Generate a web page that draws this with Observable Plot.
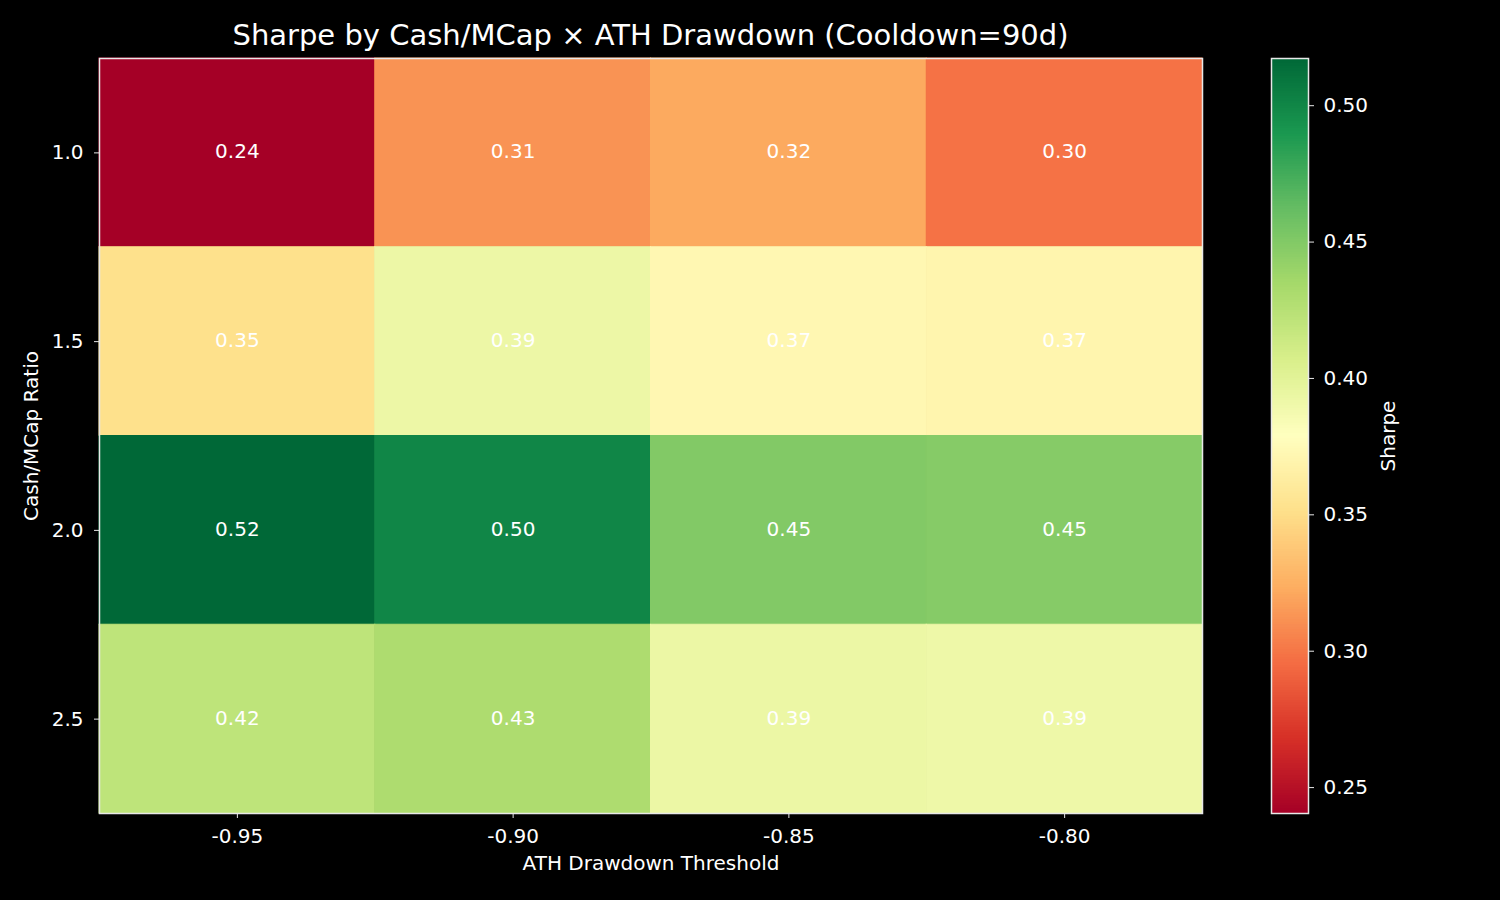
<!DOCTYPE html>
<html>
<head>
<meta charset="utf-8">
<script src="https://cdn.jsdelivr.net/npm/d3@7"></script>
<script src="https://cdn.jsdelivr.net/npm/@observablehq/plot@0.6"></script>
<style>
  html, body { margin: 0; padding: 0; background: #000; }
  #wrap { position: relative; width: 1500px; height: 900px; background: #000; overflow: hidden; font-family: "DejaVu Sans", sans-serif; }
  #title { position: absolute; z-index: 5; left: 0; width: 1301px; top: 16px; text-align: center; color: #fff; font-size: 29px; line-height: 38px; white-space: nowrap; }
  #main, #cbar { position: absolute; top: 0; }
  #main { left: 0; }
  #cbar { left: 1200px; }
</style>
</head>
<body>
<div id="wrap">
  <div id="main"></div>
  <div id="cbar"></div>
  <div id="title">Sharpe by Cash/MCap × ATH Drawdown (Cooldown=90d)</div>
</div>
<script>
// ---- data ----
const thresholds = [-0.95, -0.90, -0.85, -0.80];
const ratios = [1.0, 1.5, 2.0, 2.5];
const sharpe = [
  [0.2405, 0.312, 0.322, 0.298],   // ratio 1.0
  [0.352, 0.392, 0.372, 0.370],    // ratio 1.5
  [0.5173, 0.500, 0.450, 0.448],   // ratio 2.0
  [0.421, 0.430, 0.393, 0.391]     // ratio 2.5
];
const cbarTicks = [0.25, 0.30, 0.35, 0.40, 0.45, 0.50];

// table for the library
const cells = [];
ratios.forEach((r, i) => thresholds.forEach((t, j) => cells.push({ratio: r, threshold: t, sharpe: sharpe[i][j]})));

// matplotlib RdYlGn (linear segments)
const rdylgn = ["#a50026","#d73027","#f46d43","#fdae61","#fee08b","#ffffbf","#d9ef8b","#a6d96a","#66bd63","#1a9850","#006837"];
const interp = d3.piecewise(d3.interpolateRgb, rdylgn);
const [vmin, vmax] = d3.extent(cells, d => d.sharpe);
const colorOpts = {type: "linear", domain: [vmin, vmax], interpolate: t => interp(Math.max(0, Math.min(1, t)))};

const font = {background: "transparent", color: "#fff", fontFamily: "DejaVu Sans, sans-serif", fontSize: "20px", overflow: "visible"};
const edge = "#e8e8e8";

const main = Plot.plot({
  width: 1500, height: 900,
  marginLeft: 99, marginRight: 298, marginTop: 58, marginBottom: 87,
  style: font,
  x: {type: "band", domain: thresholds, padding: 0, round: false},
  y: {type: "band", domain: ratios, padding: 0, round: false},
  color: colorOpts,
  marks: [
    Plot.cell(cells, {x: "threshold", y: "ratio", fill: "sharpe", stroke: "sharpe", strokeWidth: 1}),
    Plot.text(cells, {x: "threshold", y: "ratio", text: d => d.sharpe.toFixed(2), fill: "#fff", fontSize: 20, dy: -1}),
    Plot.frame({stroke: edge, strokeWidth: 1.5}),
    Plot.axisX({tickFormat: d => d.toFixed(2), tickSize: 5, tickPadding: 10, stroke: edge, fontSize: 20,
      label: "ATH Drawdown Threshold", labelAnchor: "center", labelOffset: 56, labelArrow: "none"}),
    Plot.axisY({tickFormat: d => d.toFixed(1), tickSize: 5, tickPadding: 11, stroke: edge, fontSize: 20,
      label: "Cash/MCap Ratio", labelAnchor: "center", labelOffset: 76, labelArrow: "none"})
  ]
});
document.getElementById("main").appendChild(main);

// colorbar
const nStops = 300;
const step = (vmax - vmin) / nStops;
const stops = d3.range(nStops).map(i => vmin + i * step);
const cbar = Plot.plot({
  width: 300, height: 900,
  marginLeft: 71, marginRight: 192, marginTop: 58, marginBottom: 87,
  style: font,
  x: {axis: null},
  y: {domain: [vmin, vmax]},
  color: colorOpts,
  marks: [
    Plot.rect(stops, {y1: d => d, y2: d => Math.min(vmax, d + step * 1.6), fill: d => d + step / 2, shapeRendering: "crispEdges"}),
    Plot.frame({stroke: edge, strokeWidth: 1.5}),
    Plot.axisY({anchor: "right", ticks: cbarTicks, tickFormat: d => d.toFixed(2), tickSize: 5, tickPadding: 10, stroke: edge, fontSize: 20,
      label: "Sharpe", labelAnchor: "center", labelOffset: 86, labelArrow: "none"})
  ]
});
document.getElementById("cbar").appendChild(cbar);
</script>
</body>
</html>
